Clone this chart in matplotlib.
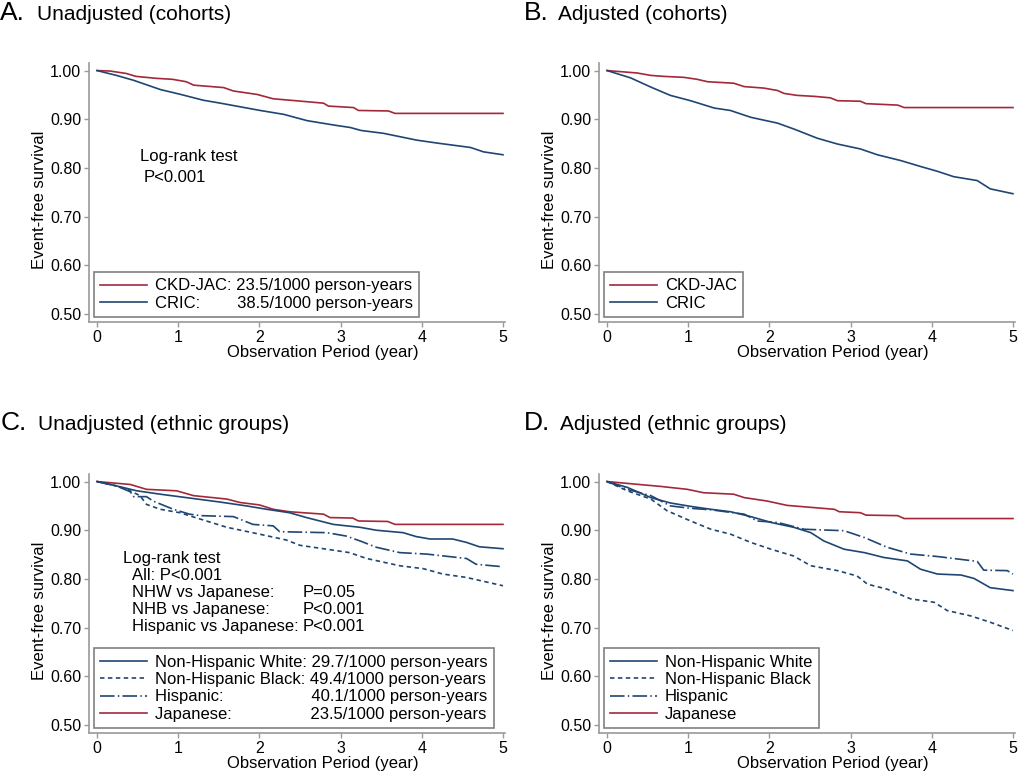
import matplotlib
matplotlib.use("Agg")
import matplotlib.pyplot as plt

plt.rcParams['font.family'] = ['Liberation Sans', 'DejaVu Sans']
plt.rcParams['lines.scale_dashes'] = False

NAVY = '#1F4672'
RED = '#A3283A'
GRAY = '#9a9a9a'

# ---------------- Data ----------------
# Panel A: unadjusted cohorts
a_jac_t = [0, 0.16, 0.36, 0.48, 0.73, 0.93, 1.10, 1.19, 1.56, 1.68, 1.97, 2.17, 2.38, 2.79, 2.85, 3.16, 3.22, 3.59, 3.67, 5.0]
a_jac_s = [1.0, 0.999, 0.994, 0.988, 0.984, 0.982, 0.977, 0.970, 0.965, 0.958, 0.951, 0.942, 0.939, 0.933, 0.927, 0.924, 0.918, 0.917, 0.912, 0.912]
a_cric_t = [0, 0.24, 0.45, 0.78, 1.03, 1.31, 1.52, 2.01, 2.30, 2.59, 2.92, 3.12, 3.25, 3.53, 3.94, 4.19, 4.60, 4.76, 5.0]
a_cric_s = [1.0, 0.990, 0.980, 0.961, 0.951, 0.939, 0.933, 0.918, 0.910, 0.897, 0.888, 0.883, 0.877, 0.871, 0.857, 0.851, 0.842, 0.833, 0.827]

# Panel B: adjusted cohorts
b_jac_t = [0, 0.37, 0.54, 0.70, 0.95, 1.11, 1.24, 1.56, 1.69, 1.93, 2.10, 2.18, 2.34, 2.55, 2.75, 2.84, 3.12, 3.19, 3.58, 3.66, 5.0]
b_jac_s = [1.0, 0.995, 0.990, 0.988, 0.986, 0.982, 0.977, 0.974, 0.967, 0.964, 0.959, 0.953, 0.949, 0.947, 0.944, 0.938, 0.937, 0.932, 0.929, 0.924, 0.924]
b_cric_t = [0, 0.29, 0.54, 0.78, 1.03, 1.32, 1.52, 1.77, 2.10, 2.30, 2.59, 2.84, 3.12, 3.33, 3.62, 3.86, 4.07, 4.27, 4.56, 4.72, 5.0]
b_cric_s = [1.0, 0.985, 0.966, 0.949, 0.938, 0.923, 0.918, 0.904, 0.892, 0.880, 0.861, 0.849, 0.839, 0.827, 0.815, 0.803, 0.793, 0.782, 0.774, 0.757, 0.747]

# Panel C: unadjusted ethnic groups
c_nhw_t = [0, 0.24, 0.49, 0.78, 1.10, 1.51, 1.84, 2.09, 2.37, 2.58, 2.91, 3.24, 3.44, 3.77, 3.93, 4.10, 4.38, 4.55, 4.71, 5.0]
c_nhw_s = [1.0, 0.991, 0.981, 0.974, 0.967, 0.958, 0.950, 0.943, 0.936, 0.926, 0.912, 0.906, 0.900, 0.895, 0.887, 0.882, 0.882, 0.875, 0.866, 0.862]
c_nhb_t = [0, 0.24, 0.37, 0.53, 0.61, 0.78, 1.02, 1.27, 1.60, 2.00, 2.33, 2.50, 2.83, 3.11, 3.32, 3.73, 4.02, 4.26, 4.55, 5.0]
c_nhb_s = [1.0, 0.991, 0.984, 0.971, 0.953, 0.943, 0.936, 0.923, 0.906, 0.892, 0.880, 0.869, 0.861, 0.854, 0.842, 0.827, 0.821, 0.810, 0.803, 0.786]
c_his_t = [0, 0.24, 0.41, 0.45, 0.61, 0.69, 0.94, 1.14, 1.27, 1.68, 1.92, 2.17, 2.25, 2.83, 3.07, 3.24, 3.44, 3.73, 4.06, 4.55, 4.67, 5.0]
c_his_s = [1.0, 0.991, 0.979, 0.969, 0.969, 0.960, 0.943, 0.933, 0.930, 0.928, 0.912, 0.909, 0.897, 0.895, 0.888, 0.878, 0.865, 0.854, 0.851, 0.842, 0.830, 0.825]
c_jap_t = [0, 0.41, 0.61, 0.98, 1.19, 1.60, 1.76, 2.00, 2.17, 2.37, 2.79, 2.87, 3.15, 3.22, 3.58, 3.67, 5.0]
c_jap_s = [1.0, 0.994, 0.984, 0.981, 0.971, 0.964, 0.957, 0.952, 0.943, 0.938, 0.933, 0.926, 0.925, 0.919, 0.918, 0.912, 0.912]

# Panel D: adjusted ethnic groups
d_nhw_t = [0, 0.25, 0.54, 0.78, 1.03, 1.28, 1.52, 1.77, 2.02, 2.30, 2.51, 2.67, 2.92, 3.17, 3.41, 3.70, 3.86, 4.07, 4.36, 4.52, 4.72, 5.0]
d_nhw_s = [1.0, 0.988, 0.967, 0.956, 0.949, 0.943, 0.938, 0.928, 0.916, 0.906, 0.895, 0.878, 0.861, 0.854, 0.844, 0.837, 0.820, 0.810, 0.808, 0.801, 0.782, 0.776]
d_nhb_t = [0, 0.25, 0.54, 0.74, 1.03, 1.28, 1.52, 1.77, 2.02, 2.30, 2.51, 2.84, 3.08, 3.21, 3.45, 3.74, 4.03, 4.19, 4.48, 4.72, 5.0]
d_nhb_s = [1.0, 0.981, 0.964, 0.940, 0.919, 0.902, 0.892, 0.875, 0.861, 0.847, 0.827, 0.817, 0.806, 0.789, 0.779, 0.759, 0.752, 0.735, 0.724, 0.711, 0.694]
d_his_t = [0, 0.25, 0.54, 0.78, 1.03, 1.28, 1.69, 1.85, 2.10, 2.43, 2.92, 3.17, 3.45, 3.74, 4.07, 4.56, 4.64, 4.93, 5.0]
d_his_s = [1.0, 0.984, 0.971, 0.950, 0.945, 0.942, 0.933, 0.919, 0.916, 0.902, 0.899, 0.885, 0.865, 0.851, 0.846, 0.836, 0.818, 0.817, 0.810]
d_jap_t = [0, 0.46, 0.66, 0.99, 1.19, 1.56, 1.69, 1.97, 2.22, 2.51, 2.80, 2.86, 3.12, 3.19, 3.58, 3.66, 5.0]
d_jap_s = [1.0, 0.993, 0.990, 0.984, 0.977, 0.974, 0.967, 0.960, 0.951, 0.947, 0.943, 0.938, 0.936, 0.931, 0.930, 0.924, 0.924]

x_ticks = [0, 1, 2, 3, 4, 5]
y_ticks = [0.50, 0.60, 0.70, 0.80, 0.90, 1.00]

labels_A = ['CKD-JAC: 23.5/1000 person-years', 'CRIC:' + ' ' * 8 + '38.5/1000 person-years']
labels_B = ['CKD-JAC', 'CRIC']
labels_C = ['Non-Hispanic White: 29.7/1000 person-years',
            'Non-Hispanic Black: 49.4/1000 person-years',
            'Hispanic:' + ' ' * 19 + '40.1/1000 person-years',
            'Japanese:' + ' ' * 17 + '23.5/1000 person-years']
labels_D = ['Non-Hispanic White', 'Non-Hispanic Black', 'Hispanic', 'Japanese']

titles = [('A.', 'Unadjusted (cohorts)'), ('B.', 'Adjusted (cohorts)'),
          ('C.', 'Unadjusted (ethnic groups)'), ('D.', 'Adjusted (ethnic groups)')]

# ---------------- Figure ----------------
W, H = 1022, 773
fig = plt.figure(figsize=(W / 100, H / 100), dpi=100)

def px_axes(left, top, right, bottom):
    return fig.add_axes([left / W, 1 - bottom / H, (right - left) / W, (bottom - top) / H])

axA = px_axes(89, 63, 505, 322)
axB = px_axes(599, 63, 1015, 322)
axC = px_axes(89, 474, 505, 733)
axD = px_axes(599, 474, 1015, 733)

LW = 1.2
SOLID = '-'
DASH = (0, (3.2, 2.5))
DASHDOT = (0, (10.5, 2.3, 1.1, 2.3))

def style(ax):
    ax.set_xlim(-0.0985, 5.025)
    ax.set_ylim(0.4835, 1.0155)
    ax.set_xticks(x_ticks)
    ax.set_yticks(y_ticks)
    ax.set_yticklabels([f'{v:.2f}' for v in y_ticks])
    for s in ['top', 'right']:
        ax.spines[s].set_visible(False)
    for s in ['left', 'bottom']:
        ax.spines[s].set_color(GRAY)
        ax.spines[s].set_linewidth(1.2)
    ax.tick_params(axis='both', colors=GRAY, labelcolor='black', labelsize=11.5,
                   length=3.5, width=1.0, pad=2)
    ax.set_xlabel('Observation Period (year)', fontsize=12, va='center')
    ax.xaxis.set_label_coords(0.5625, -0.1185)
    ax.set_ylabel('Event-free survival', fontsize=12, va='center')
    ax.yaxis.set_label_coords(-0.12, 0.47)

def legend(ax, handles, labels):
    leg = ax.legend(handles, labels, loc='lower left', bbox_to_anchor=(0.011, 0.019),
                    borderaxespad=0, fontsize=12, frameon=True, fancybox=False,
                    framealpha=1, edgecolor='#808080', handlelength=2.8,
                    handletextpad=0.5, labelspacing=0.14, borderpad=0.38)
    leg.get_frame().set_linewidth(1.2)

# A
la1, = axA.plot(a_jac_t, a_jac_s, color=RED, lw=LW)
la2, = axA.plot(a_cric_t, a_cric_s, color=NAVY, lw=LW)
style(axA)
legend(axA, [la1, la2], labels_A)
axA.text(0.53, 0.8226, 'Log-rank test', fontsize=12, va='center', ha='left')
axA.text(0.579, 0.7795, 'P<0.001', fontsize=12, va='center', ha='left')

# B
lb1, = axB.plot(b_jac_t, b_jac_s, color=RED, lw=LW)
lb2, = axB.plot(b_cric_t, b_cric_s, color=NAVY, lw=LW)
style(axB)
legend(axB, [lb1, lb2], labels_B)

# C
lc4, = axC.plot(c_jap_t, c_jap_s, color=RED, lw=LW, linestyle=SOLID)
lc1, = axC.plot(c_nhw_t, c_nhw_s, color=NAVY, lw=LW, linestyle=SOLID)
lc2, = axC.plot(c_nhb_t, c_nhb_s, color=NAVY, lw=LW, linestyle=DASH)
lc3, = axC.plot(c_his_t, c_his_s, color=NAVY, lw=LW, linestyle=DASHDOT)
style(axC)
legend(axC, [lc1, lc2, lc3, lc4], labels_C)
axC.text(0.32, 0.8413, 'Log-rank test', fontsize=12, va='center')
rows_left = ['All: P<0.001', 'NHW vs Japanese:', 'NHB vs Japanese:', 'Hispanic vs Japanese:']
rows_right = ['', 'P=0.05', 'P<0.001', 'P<0.001']
rows_y = [0.8065, 0.7716, 0.738, 0.7031]
for l, r, y in zip(rows_left, rows_right, rows_y):
    axC.text(0.431, y, l, fontsize=12, va='center')
    if r:
        axC.text(2.537, y, r, fontsize=12, va='center')

# D
ld4, = axD.plot(d_jap_t, d_jap_s, color=RED, lw=LW, linestyle=SOLID)
ld1, = axD.plot(d_nhw_t, d_nhw_s, color=NAVY, lw=LW, linestyle=SOLID)
ld2, = axD.plot(d_nhb_t, d_nhb_s, color=NAVY, lw=LW, linestyle=DASH)
ld3, = axD.plot(d_his_t, d_his_s, color=NAVY, lw=LW, linestyle=DASHDOT)
style(axD)
legend(axD, [ld1, ld2, ld3, ld4], labels_D)

# Titles
title_pos = [(0, 36.7, 20.5), (523.7, 558.3, 20.5), (1, 38, 430), (523.7, 560.3, 430)]
for (letter, text), (xl, xt, yb) in zip(titles, title_pos):
    fig.text(xl / W, 1 - yb / H, letter, fontsize=19, va='baseline', ha='left')
    fig.text(xt / W, 1 - yb / H, text, fontsize=15, va='baseline', ha='left')

fig.savefig('out.png', dpi=100)
